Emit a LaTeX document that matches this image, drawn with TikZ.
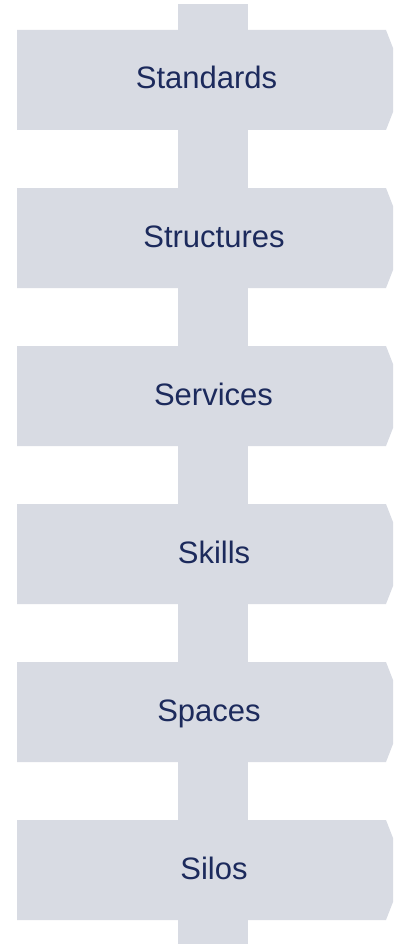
\documentclass[tikz,border=0pt]{standalone}
\usepackage{fontspec}
\setmainfont{Liberation Sans}
\definecolor{panel}{HTML}{D8DBE3}
\definecolor{ink}{HTML}{1C2A5C}
\tikzset{
  stage/.style={fill=panel, draw=none},
  stagelabel/.style={text=ink, font=\fontsize{31}{36}\selectfont, anchor=base, inner sep=0pt}
}
\begin{document}
\begin{tikzpicture}[x=1pt,y=-1pt]
  \useasboundingbox (0,0) rectangle (394,944);
  % central spine
  \fill[panel] (178,4) rectangle (248,944);
  % stage panels with a clipped right edge
  \foreach \k in {0,...,5} {
    \pgfmathsetmacro{\t}{30+158*\k}
    \fill[panel] (17,\t) -- (386,\t) -- (393,\t+18) -- (393,\t+82) -- (386,\t+100) -- (17,\t+100) -- cycle;
  }
  \node[stagelabel] (standards)  at (206.5,89)  {Standards};
  \node[stagelabel] (structures) at (214,247)   {Structures};
  \node[stagelabel] (services)   at (213.5,405) {Services};
  \node[stagelabel] (skills)     at (214,563)   {Skills};
  \node[stagelabel] (spaces)     at (209,721)   {Spaces};
  \node[stagelabel] (silos)      at (214,879)   {Silos};
\end{tikzpicture}
\end{document}
